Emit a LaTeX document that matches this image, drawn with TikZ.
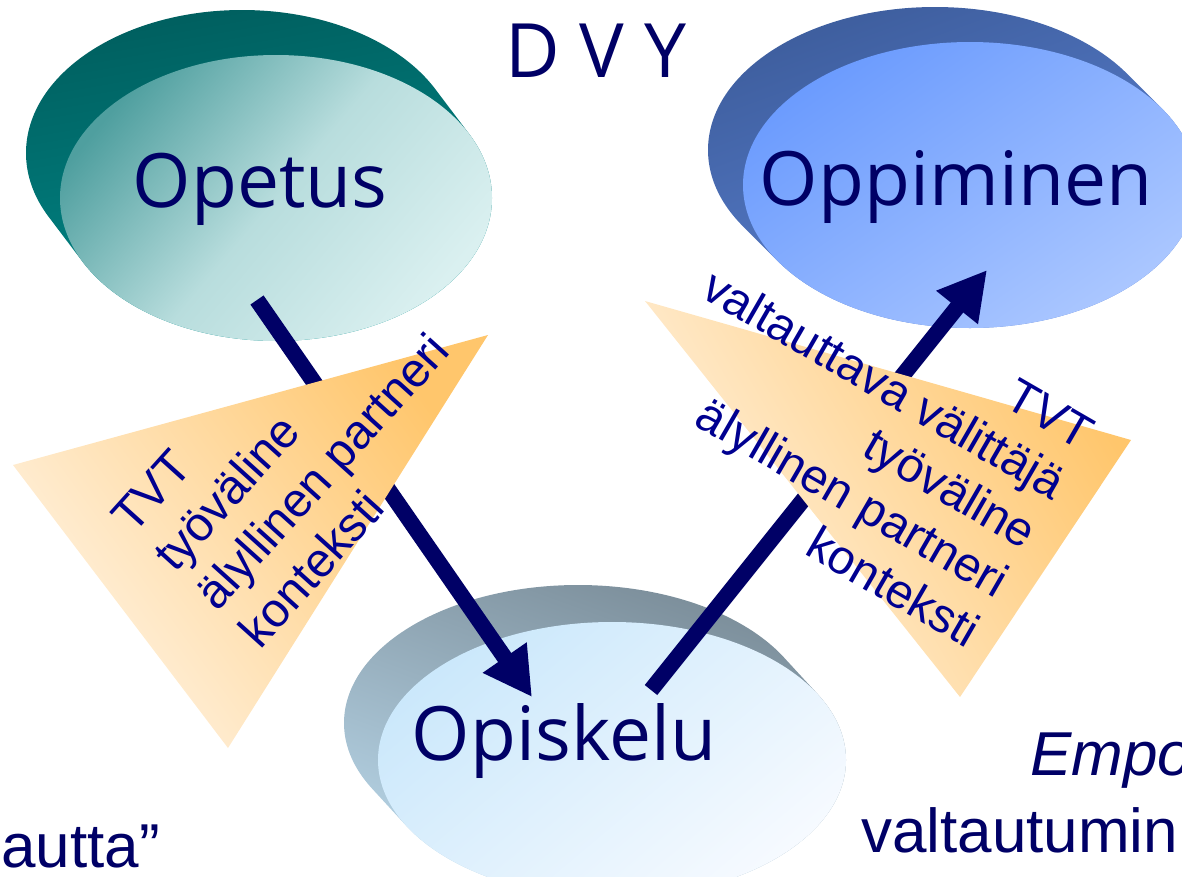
\documentclass[tikz,border=0pt]{standalone}
\usepackage{fontspec}
\setmainfont{Liberation Sans}
\newfontfamily\lblfont{Open Sans}
\usetikzlibrary{arrows.meta,shapes.geometric}
\definecolor{navy}{HTML}{000066}
\definecolor{trinavy}{HTML}{000090}
\definecolor{tealdark}{HTML}{005F5F}
\definecolor{teallight}{HTML}{008C8C}
\definecolor{opA}{HTML}{4F9F9F}
\definecolor{opB}{HTML}{B8DDDD}
\definecolor{opC}{HTML}{DAF0F0}
\definecolor{blueback1}{HTML}{3E5E9E}
\definecolor{blueback2}{HTML}{5D84D6}
\definecolor{blueA}{HTML}{6B9BFE}
\definecolor{blueB}{HTML}{ABC7FF}
\definecolor{grayback1}{HTML}{7A8C98}
\definecolor{grayback2}{HTML}{B8D6E8}
\definecolor{skyA}{HTML}{CBE8FB}
\definecolor{skyB}{HTML}{F6FAFF}
\definecolor{orA}{HTML}{FFC66C}
\definecolor{orB}{HTML}{FFF3E3}
\tikzset{
  lbl/.style={inner sep=0pt, text=navy, font=\lblfont\fontsize{75}{90}\selectfont},
  tritext/.style={inner sep=0pt, text=trinavy, font=\fontsize{48}{57}\selectfont},
  bottext/.style={inner sep=0pt, text=navy, font=\fontsize{62}{74}\selectfont},
  arr/.style={draw=navy, line width=16pt, -{Triangle[length=48pt,width=50pt]}},
  blob/.style={ellipse, inner sep=0pt, draw=none}
}
\begin{document}
\begin{tikzpicture}[x=1pt,y=-1pt]
\useasboundingbox (0,0) rectangle (1182,876);
% back (extruded) parts
\shade[top color=tealdark, bottom color=teallight, shading angle=10]
  \foreach \k in {0,...,16}{ ({276-34*\k/16},{198-45*\k/16}) ellipse [x radius=216, y radius=143] };
\shade[top color=blueback1, bottom color=blueback2, shading angle=20]
  \foreach \k in {0,...,16}{ ({970-35*\k/16},{185-35*\k/16}) ellipse [x radius=227, y radius=143] };
\shade[top color=grayback1, bottom color=grayback2, shading angle=-20]
  \foreach \k in {0,...,16}{ ({612-34*\k/16},{760-37*\k/16}) ellipse [x radius=234, y radius=138] };
% front ellipses
\node[blob, minimum width=432pt, minimum height=286pt, top color=opA, bottom color=opC, middle color=opB, shading angle=50] (opetusE) at (276,198) {};
\node[blob, minimum width=454pt, minimum height=286pt, top color=blueA, bottom color=blueB, shading angle=35] (oppiminenE) at (970,185) {};
\node[blob, minimum width=468pt, minimum height=276pt, top color=skyA, bottom color=skyB, shading angle=40] (opiskeluE) at (612,760) {};
% arrows
\coordinate (a1s) at (257,300);
\coordinate (a1e) at (532,697);
\coordinate (a2s) at (651,690);
\coordinate (a2e) at (987,270);
\draw[arr] (a1s) -- (a1e);
\draw[arr] (a2s) -- (a2e);
% triangles
\shade[top color=orA, bottom color=orB, shading angle=-54] (13,465) -- (488,335) -- (228,748) -- cycle;
\shade[top color=orA, bottom color=orB, shading angle=-60] (645,301) -- (1131,440) -- (960,697) -- cycle;
% left triangle text
\node[tritext, rotate=48, anchor=base west] (l1) at (133,536) {TVT};
\node[tritext, rotate=48, anchor=base west] (l2) at (175.4,574.1) {työväline};
\node[tritext, rotate=48, anchor=base west] (l3) at (217.8,612.2) {älyllinen partneri};
\node[tritext, rotate=48, anchor=base west] (l4) at (260.2,650.3) {konteksti};
% right triangle text
\node[tritext, rotate=-30, anchor=base east] (r1) at (1081.3,451.1) {TVT};
\node[tritext, rotate=-30, anchor=base east] (r2) at (1052.8,500.5) {valtauttava välittäjä};
\node[tritext, rotate=-30, anchor=base east] (r3) at (1024.3,549.8) {työväline};
\node[tritext, rotate=-30, anchor=base east] (r4) at (995.8,599.2) {älyllinen partneri};
\node[tritext, rotate=-30, anchor=base east] (r5) at (967.3,648.5) {konteksti};
% labels
\node[lbl, anchor=base] (dvy) at (596,77) {D V Y};
\node[lbl, anchor=base] (opetus) at (260,207) {Opetus};
\node[lbl, anchor=base] (oppiminen) at (956,205) {Oppiminen};
\node[lbl, anchor=base] (opiskelu) at (564,760) {Opiskelu};
% bottom texts
\node[bottext, anchor=base east] (b1) at (160,867) {autta”};
\node[bottext, anchor=base west, font=\fontsize{62}{74}\selectfont\itshape] (b2) at (1030,775) {Empo};
\node[bottext, anchor=base west] (b3) at (861,852) {valtautumin};
\end{tikzpicture}
\end{document}
